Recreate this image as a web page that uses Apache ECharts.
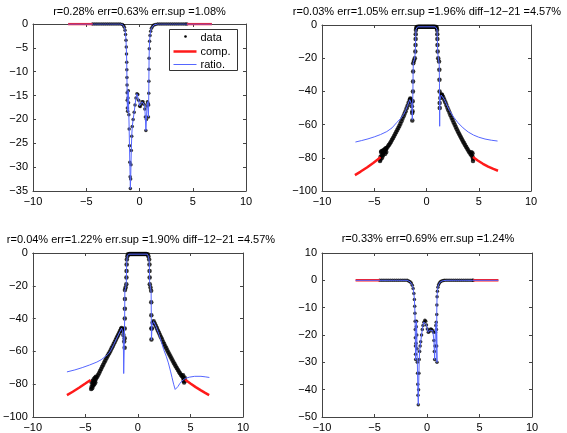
<!DOCTYPE html>
<html>
<head>
<meta charset="utf-8">
<script src="https://cdn.jsdelivr.net/npm/echarts@6/dist/echarts.min.js"></script>
<style>
  html, body { margin: 0; padding: 0; background: #fff; }
  #chart { width: 567px; height: 433px; }
</style>
</head>
<body>
<div id="chart"></div>
<script>
// --- titles ---
const titles = [
  'r=0.28% err=0.63% err.sup =1.08%',
  'r=0.03% err=1.05% err.sup =1.96% diff\u221212\u221221 =4.57%',
  'r=0.04% err=1.22% err.sup =1.90% diff\u221212\u221221 =4.57%',
  'r=0.33% err=0.69% err.sup =1.24%'
];
const xTicks = [-10, 10, 5];
const yTicks = [[-35, 0, 5], [-100, 0, 20], [-100, 0, 20], [-50, 10, 10]];

// --- plot 1 ---
const data1 = [
  [-4.4, 0], [-4.2, 0], [-4.0, 0], [-3.8, 0], [-3.6, 0], [-3.4, 0], [-3.2, 0], [-3.0, 0],
  [-2.8, 0], [-2.6, 0], [-2.4, 0], [-2.2, 0], [-2.0, 0], [-1.8, 0],
  [-1.6, -0.1], [-1.5, -0.3], [-1.42, -0.7], [-1.36, -1.3], [-1.31, -2.2], [-1.27, -3.4],
  [-1.24, -4.8], [-1.22, -6.3], [-1.2, -8], [-1.19, -9.6], [-1.18, -11.2], [-1.17, -12.8],
  [-1.16, -14.4], [-1.15, -16], [-1.14, -17.6], [-1.12, -18.3], [-1.08, -15.5], [-1.05, -14],
  [-1.03, -16.5], [-1.0, -19], [-0.97, -22], [-0.94, -25.5], [-0.91, -29], [-0.88, -32],
  [-0.86, -34.5], [-0.83, -32.5], [-0.8, -29.5], [-0.77, -26.5], [-0.73, -23.5], [-0.68, -21.5],
  [-0.6, -20], [-0.5, -18.5], [-0.42, -17], [-0.33, -15.5], [-0.24, -14.6], [-0.16, -14.8],
  [-0.08, -16], [0, -17.2], [0.07, -17.3], [0.15, -16.8], [0.24, -16.3], [0.33, -16.3],
  [0.42, -16.8], [0.5, -17.8], [0.55, -19.5], [0.6, -22.3], [0.65, -20], [0.7, -17.2],
  [0.75, -16.3], [0.8, -16.6], [0.84, -19.5], [0.86, -17], [0.87, -14.5], [0.88, -12],
  [0.89, -9.5], [0.9, -7.2], [0.92, -5.2], [0.95, -3.6], [0.99, -2.4], [1.05, -1.5],
  [1.12, -0.9], [1.22, -0.5], [1.35, -0.2], [1.5, -0.1],
  [1.7, 0], [1.9, 0], [2.1, 0], [2.3, 0], [2.5, 0], [2.7, 0], [2.9, 0], [3.1, 0], [3.3, 0],
  [3.5, 0], [3.7, 0], [3.9, 0], [4.1, 0], [4.3, 0], [4.45, 0]
];
const compL1 = [[-6.7, 0], [-4.4, 0]];
const compR1 = [[4.45, 0], [6.8, 0]];
// ratio follows the data here, extended to the comp ends
const ratio1 = [[-6.7, 0]].concat(data1, [[6.8, 0]]);

// --- plot 2 ---
const data2 = [
  [-4.4, -79.5], [-4.3, -78.6], [-4.2, -77.7], [-4.1, -76.8], [-4.0, -75.9], [-3.9, -75.0],
  [-3.8, -74.1], [-3.7, -73.2], [-3.6, -72.3], [-3.5, -71.4], [-3.4, -70.3], [-3.3, -69.2],
  [-3.2, -68.0], [-3.1, -66.8], [-3.0, -65.6], [-2.9, -64.4], [-2.8, -63.2], [-2.7, -62.0],
  [-2.6, -60.8], [-2.5, -59.5], [-2.4, -58.0], [-2.3, -56.5], [-2.2, -55.0], [-2.1, -53.5],
  [-2.0, -52.0], [-1.9, -50.2], [-1.8, -48.5], [-1.7, -46.7], [-1.6, -45.0], [-1.55, -44.3],
  [-4.45, -82], [-4.4, -81], [-4.35, -76.5], [-4.3, -76], [-4.25, -80], [-4.2, -75.8],
  [-4.15, -78.5], [-4.1, -75.5], [-4.0, -74.8], [-3.95, -77.5], [-3.85, -76.5], [-3.9, -74.2],
  [-1.5, -44.8], [-1.45, -46.5], [-1.4, -49], [-1.37, -53], [-1.36, -57.5], [-1.34, -52],
  [-1.32, -46], [-1.3, -40], [-1.29, -34], [-1.28, -28], [-1.27, -23], [-1.2, -21.5],
  [-1.12, -20], [-1.07, -16], [-1.05, -12], [-1.04, -8.5], [-1.03, -5.5], [-1.01, -3],
  [-0.98, -1.8], [-0.92, -1.2], [-0.8, -1.1], [-0.7, -1.1], [-0.6, -1.1], [-0.5, -1.1],
  [-0.4, -1.1], [-0.3, -1.1], [-0.2, -1.1], [-0.1, -1.1], [0, -1.1], [0.1, -1.1], [0.2, -1.1],
  [0.3, -1.1], [0.4, -1.1], [0.5, -1.1], [0.6, -1.1], [0.7, -1.1], [0.8, -1.1],
  [0.92, -1.2], [0.98, -1.8], [1.01, -3], [1.03, -5.5], [1.04, -8.5], [1.05, -12], [1.07, -16],
  [1.12, -20], [1.2, -22], [1.23, -27], [1.24, -33], [1.25, -40], [1.26, -47], [1.27, -50],
  [1.32, -44], [1.4, -42], [1.45, -41.8], [1.5, -42.3],
  [1.6, -43.5], [1.7, -45], [1.8, -46.6], [1.9, -48.2], [2.0, -49.8], [2.1, -51.3], [2.2, -52.8],
  [2.3, -54.3], [2.4, -55.8], [2.5, -57.3], [2.6, -58.7], [2.7, -60.1], [2.8, -61.5], [2.9, -62.8],
  [3.0, -64.1], [3.1, -65.4], [3.2, -66.6], [3.3, -67.8], [3.4, -69.0], [3.5, -70.2], [3.6, -71.3],
  [3.7, -72.4], [3.8, -73.5], [3.9, -74.6], [4.0, -75.6], [4.1, -76.6], [4.2, -77.6], [4.3, -78.5],
  [4.4, -79.4], [4.45, -80.5], [4.4, -77.2], [4.3, -76.6], [4.45, -82]
];
const compL2 = [[-6.85, -90.4], [-6.3, -88.3], [-5.7, -85.8], [-5.1, -83.1], [-4.7, -81.2], [-4.4, -79.6]];
const compR2 = [[4.45, -79.5], [4.9, -81.6], [5.4, -83.6], [5.9, -85.3], [6.4, -86.7], [6.84, -87.8]];
const ratio2 = [
  [-6.8, -70.5], [-6.2, -69.6], [-5.6, -68.6], [-5.0, -67.4], [-4.4, -66], [-3.8, -64.2],
  [-3.3, -62], [-2.85, -58.8], [-2.5, -56.5], [-2.2, -54], [-2.0, -51.5], [-1.8, -48.3],
  [-1.6, -45], [-1.55, -44.3], [-1.48, -45.5], [-1.42, -48], [-1.38, -52], [-1.36, -57],
  [-1.33, -50], [-1.3, -40], [-1.28, -28], [-1.26, -22.5], [-1.15, -20.5], [-1.08, -17],
  [-1.05, -12], [-1.03, -6], [-1.0, -2.5], [-0.95, -1.4], [-0.85, -1.1], [0.85, -1.1],
  [0.95, -1.4], [1.0, -2.5], [1.03, -6], [1.05, -12], [1.08, -17], [1.15, -20.5], [1.22, -24],
  [1.24, -35], [1.25, -50], [1.26, -61], [1.27, -52], [1.3, -45], [1.4, -42.2], [1.5, -42.3],
  [1.7, -44.8], [1.9, -47.6], [2.2, -51.5], [2.6, -55.5], [3.0, -58.8], [3.5, -62], [4.0, -64.5],
  [4.5, -66.3], [5.0, -67.6], [5.6, -68.7], [6.2, -69.4], [6.8, -69.9]
];

// --- plot 3 ---
const data3 = [
  [-4.4, -81.5], [-4.3, -80.3], [-4.2, -79.1], [-4.1, -78.0], [-4.0, -76.9], [-3.9, -75.8],
  [-3.8, -74.6], [-3.7, -73.3], [-3.6, -72.0], [-3.5, -70.7], [-3.4, -69.4], [-3.3, -68.1],
  [-3.2, -66.8], [-3.1, -65.5], [-3.0, -64.2], [-2.9, -63.0], [-2.8, -61.8], [-2.7, -60.6],
  [-2.6, -59.4], [-2.5, -58.1], [-2.4, -56.8], [-2.3, -55.5], [-2.2, -54.2], [-2.1, -52.9],
  [-2.0, -51.6], [-1.9, -50.3], [-1.8, -49.0], [-1.7, -47.6], [-1.6, -46.4], [-1.55, -45.8],
  [-4.45, -83], [-4.4, -79], [-4.35, -82.5], [-4.3, -78], [-4.25, -81], [-4.2, -77],
  [-4.15, -80], [-4.1, -76.2], [-4.05, -79], [-4.0, -75.5],
  [-1.5, -46.5], [-1.45, -47.5], [-1.38, -50], [-1.3, -54], [-1.26, -57.8], [-1.255, -52],
  [-1.25, -46], [-1.245, -40], [-1.24, -34], [-1.235, -28], [-1.23, -22.5], [-1.17, -21],
  [-1.1, -19], [-1.09, -15], [-1.08, -11], [-1.07, -7], [-1.05, -4], [-1.0, -2], [-0.93, -0.8],
  [-0.8, -0.6], [-0.7, -0.6], [-0.6, -0.6], [-0.5, -0.6], [-0.4, -0.6], [-0.3, -0.6], [-0.2, -0.6],
  [-0.1, -0.6], [0, -0.6], [0.1, -0.6], [0.2, -0.6], [0.3, -0.6], [0.4, -0.6], [0.5, -0.6],
  [0.6, -0.6], [0.7, -0.6], [0.8, -0.6],
  [0.93, -0.8], [1.0, -2], [1.07, -4], [1.1, -7], [1.11, -11], [1.12, -15], [1.13, -19],
  [1.2, -21], [1.26, -23], [1.27, -30], [1.28, -38], [1.285, -46], [1.29, -52.7], [1.32, -46],
  [1.4, -42.5], [1.5, -41.6],
  [1.6, -43], [1.7, -44.4], [1.8, -45.8], [1.9, -47.2], [2.0, -48.6], [2.1, -50], [2.2, -51.4],
  [2.3, -52.8], [2.4, -54.2], [2.5, -55.5], [2.6, -56.8], [2.7, -58.1], [2.8, -59.4], [2.9, -60.7],
  [3.0, -61.9], [3.1, -63.1], [3.2, -64.3], [3.3, -65.5], [3.4, -66.7], [3.5, -67.9], [3.6, -69],
  [3.7, -70.1], [3.8, -71.2], [3.9, -72.3], [4.0, -73.3], [4.1, -74.3], [4.2, -75.2], [4.3, -76.1],
  [4.4, -77], [4.5, -77.8], [4.4, -79], [4.3, -74.5], [4.35, -78], [4.45, -76]
];
const compL3 = [[-6.75, -86.7], [-6.2, -84.6], [-5.6, -82.2], [-5.0, -79.6], [-4.5, -77.4]];
const compR3 = [[4.5, -77.3], [5.0, -79.6], [5.5, -81.8], [6.0, -83.8], [6.4, -85.3], [6.78, -86.7]];
const ratio3 = [
  [-6.75, -72.5], [-6.0, -71.3], [-5.3, -69.9], [-4.6, -68.3], [-3.9, -66.5], [-3.5, -65.1],
  [-3.1, -63.2], [-2.8, -61.5], [-2.6, -59.6], [-2.3, -55.8], [-2.0, -51.8], [-1.7, -47.8],
  [-1.55, -45.8], [-1.45, -48], [-1.38, -55], [-1.35, -73.5], [-1.3, -58], [-1.26, -40],
  [-1.24, -23], [-1.15, -20.5], [-1.1, -18], [-1.08, -10], [-1.06, -5], [-1.0, -2], [-0.9, -0.7],
  [0.9, -0.7], [1.0, -2], [1.08, -5], [1.1, -10], [1.12, -18], [1.2, -21], [1.26, -24],
  [1.28, -40], [1.29, -53], [1.35, -44], [1.5, -41.8], [1.7, -44.5], [2.0, -49.5], [2.25, -54.5],
  [2.45, -58.8], [2.7, -63], [2.9, -67], [3.1, -72], [3.25, -76], [3.4, -80], [3.55, -83.2],
  [3.65, -83.3], [3.8, -81.5], [4.0, -79.5], [4.2, -78], [4.5, -76.5], [4.9, -75.7], [5.4, -75.2],
  [6.0, -75.2], [6.4, -75.5], [6.8, -75.9]
];

// --- plot 4 ---
const data4 = [
  [-4.5, 0], [-4.3, 0], [-4.1, 0], [-3.9, 0], [-3.7, 0], [-3.5, 0], [-3.3, 0], [-3.1, 0],
  [-2.9, 0], [-2.7, 0], [-2.5, 0], [-2.3, 0], [-2.1, 0], [-1.9, 0],
  [-1.75, -0.2], [-1.62, -0.5], [-1.5, -1], [-1.4, -1.8], [-1.32, -3], [-1.25, -4.8], [-1.2, -7],
  [-1.17, -9.5], [-1.15, -12], [-1.13, -15], [-1.12, -18], [-1.11, -21], [-1.1, -24], [-1.09, -27],
  [-1.08, -29], [-1.05, -23], [-1.02, -17], [-1.0, -15], [-0.97, -20], [-0.95, -25], [-0.92, -30],
  [-0.9, -34], [-0.88, -38], [-0.86, -42], [-0.83, -45.5], [-0.8, -40], [-0.77, -34], [-0.74, -29],
  [-0.7, -26], [-0.65, -24], [-0.6, -22.5], [-0.52, -20], [-0.45, -18], [-0.38, -16.5],
  [-0.3, -15.3], [-0.2, -14.6], [-0.12, -15], [-0.05, -16.3], [0.03, -17.8], [0.12, -19],
  [0.2, -18.8], [0.28, -18.2], [0.36, -17.8], [0.45, -18], [0.55, -18.4], [0.62, -19], [0.66, -22],
  [0.7, -26], [0.73, -29], [0.76, -24], [0.8, -19], [0.84, -16.5], [0.88, -15.3], [0.9, -18],
  [0.92, -24], [0.95, -30], [0.93, -12.5], [0.94, -9], [0.96, -6], [0.99, -4], [1.04, -2.5],
  [1.1, -1.6], [1.18, -1], [1.28, -0.5], [1.4, -0.2], [1.55, -0.1],
  [1.7, 0], [1.9, 0], [2.1, 0], [2.3, 0], [2.5, 0], [2.7, 0], [2.9, 0], [3.1, 0], [3.3, 0],
  [3.5, 0], [3.7, 0], [3.9, 0], [4.1, 0], [4.3, 0], [4.4, 0]
];
const compL4 = [[-6.8, 0], [-4.5, 0]];
const compR4 = [[4.4, 0], [6.8, 0]];
const ratio4 = [[-6.8, 0]].concat(data4, [[6.8, 0]]);

const plots = [
  { data: data1, compL: compL1, compR: compR1, ratio: ratio1, dot: 3.5 },
  { data: data2, compL: compL2, compR: compR2, ratio: ratio2, dot: 4.5 },
  { data: data3, compL: compL3, compR: compR3, ratio: ratio3, dot: 4.5 },
  { data: data4, compL: compL4, compR: compR4, ratio: ratio4, dot: 3.5 }
];

// layout of the 4 subplots (pixels)
const grids = [
  { left: 33, top: 24, width: 213, height: 167 },
  { left: 322, top: 25, width: 209, height: 166 },
  { left: 32, top: 253, width: 211, height: 165 },
  { left: 322, top: 253, width: 210, height: 166 }
];
const titlePos = [[139.5, 6], [427, 6], [141, 234], [428, 233]];

const FONT = 'Liberation Sans, Arial, sans-serif';
const AX = '#444';
const minus = v => String(v).replace('-', '\u2212');

function axisBase(show) {
  return {
    axisLine: { show: true, onZero: false, lineStyle: { color: AX, width: 1 } },
    axisTick: { show: true, inside: true, length: 3, lineStyle: { color: AX } },
    axisLabel: { show: show, color: '#000', fontSize: 11, fontFamily: FONT, margin: 5, formatter: minus },
    splitLine: { show: false }
  };
}

const xAxis = [], yAxis = [], series = [];
grids.forEach((g, i) => {
  [['bottom', true], ['top', false]].forEach(([pos, show]) => {
    xAxis.push(Object.assign({
      type: 'value', gridIndex: i, position: pos,
      min: xTicks[0], max: xTicks[1], interval: xTicks[2]
    }, axisBase(show)));
  });
  [['left', true], ['right', false]].forEach(([pos, show]) => {
    yAxis.push(Object.assign({
      type: 'value', gridIndex: i, position: pos,
      min: yTicks[i][0], max: yTicks[i][1], interval: yTicks[i][2]
    }, axisBase(show)));
  });
});

plots.forEach((p, i) => {
  const xi = i * 2, yi = i * 2;
  series.push({
    name: 'data', type: 'scatter', xAxisIndex: xi, yAxisIndex: yi,
    data: p.data, symbolSize: p.dot, itemStyle: { color: '#000' }
  });
  [p.compL, p.compR].forEach(seg => {
    series.push({
      name: 'comp.', type: 'line', xAxisIndex: xi, yAxisIndex: yi,
      data: seg, symbol: 'none', lineStyle: { color: '#ff1a1a', width: 2.5 }
    });
  });
  series.push({
    name: 'ratio.', type: 'line', xAxisIndex: xi, yAxisIndex: yi,
    data: p.ratio, symbol: 'none', lineStyle: { color: '#5566ff', width: 1 }
  });
});

const legendFont = '11px ' + FONT;
const option = {
  animation: false,
  backgroundColor: '#fff',
  title: titles.map((t, i) => ({
    text: t, left: titlePos[i][0], top: titlePos[i][1], textAlign: 'center', padding: 0,
    textStyle: { fontSize: 11, fontWeight: 'normal', color: '#000', fontFamily: FONT }
  })),
  grid: grids.map(g => Object.assign({ containLabel: false }, g)),
  xAxis: xAxis,
  yAxis: yAxis,
  series: series,
  graphic: [{
    type: 'group', left: 169, top: 29, z: 100,
    children: [
      { type: 'rect', shape: { x: 0, y: 0, width: 68, height: 41 }, style: { fill: '#fff', stroke: '#333', lineWidth: 1 } },
      { type: 'circle', shape: { cx: 16, cy: 7, r: 1.3 }, style: { fill: '#000' } },
      { type: 'text', x: 31, y: 8, style: { text: 'data', font: legendFont, fill: '#000', verticalAlign: 'middle' } },
      { type: 'line', shape: { x1: 4, y1: 22, x2: 27, y2: 22 }, style: { stroke: '#ff1a1a', lineWidth: 2.5 } },
      { type: 'text', x: 31, y: 22.5, style: { text: 'comp.', font: legendFont, fill: '#000', verticalAlign: 'middle' } },
      { type: 'line', shape: { x1: 4, y1: 35, x2: 27, y2: 35 }, style: { stroke: '#5566ff', lineWidth: 1 } },
      { type: 'text', x: 31, y: 35.5, style: { text: 'ratio.', font: legendFont, fill: '#000', verticalAlign: 'middle' } }
    ]
  }]
};

const chart = echarts.init(document.getElementById('chart'));
chart.setOption(option);
</script>
</body>
</html>
